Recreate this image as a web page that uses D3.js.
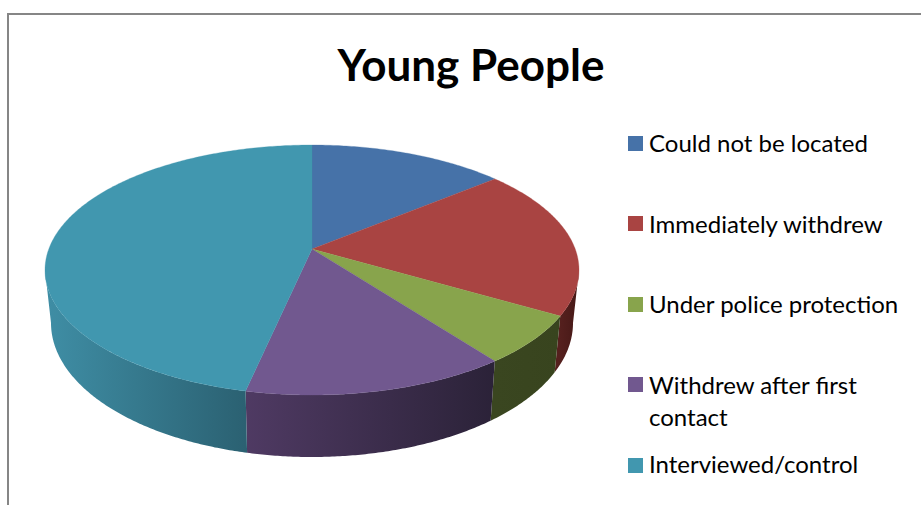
<!DOCTYPE html>
<html><head><meta charset="utf-8">
<script src="https://cdn.jsdelivr.net/npm/d3@7"></script>
<style>html,body{margin:0;padding:0;background:#fff}svg{display:block}text{font-family:Lato,"Open Sans",sans-serif;fill:#000}</style>
</head><body><div id="c"></div>
<script>
const categories=["Could not be located","Immediately withdrew","Under police protection","Withdrew after first contact","Interviewed/control"];
const values=[12,19,7,16,46];
const topColors=["#4672A8","#A94442","#88A44C","#71588F","#4197AF"];
const wallLight=["#2f4d72","#55201e","#3a4620","#4f3a63","#3f8ea5"];
const wallDark=["#2f4d72","#451816","#38441e","#2b2238","#2b6172"];
const legendLines=[["Could not be located"],["Immediately withdrew"],["Under police protection"],["Withdrew after first","contact"],["Interviewed/control"]];
const W=921,H=505;
const svg=d3.select("#c").append("svg").attr("width",W).attr("height",H);
const defs=svg.append("defs");
svg.append("path").attr("d",`M8,${H}V14H${W}`).attr("fill","none").attr("stroke","#868686").attr("stroke-width",2);
svg.append("text").attr("x",471).attr("y",81).attr("text-anchor","middle").attr("font-size",44).attr("font-weight",700).text("Young People");

const apex=[312,249];
const tx=d3.scaleLinear([-1,1],[45,579]),ty=d3.scaleLinear([-1,1],[145,395]);
const bx=d3.scaleLinear([-1,1],[51,573]),by=d3.scaleLinear([-1,1],[189,457]);
const topPt=a=>[tx(Math.sin(a)),ty(-Math.cos(a))];
const botPt=a=>[bx(Math.sin(a)),by(-Math.cos(a))];
const samples=(a0,a1)=>{const n=Math.max(2,Math.ceil((a1-a0)/0.01));return d3.range(n+1).map(i=>a0+(a1-a0)*i/n);};
const line=d3.line();
const arcs=d3.pie().sort(null).value(d=>d)(values);

// walls (front half only)
const lo=Math.PI/2,hi=Math.PI*1.5;
arcs.forEach((d,i)=>{
  const a0=Math.max(d.startAngle,lo),a1=Math.min(d.endAngle,hi);
  if(a1<=a0)return;
  const s=samples(a0,a1);
  const xs=s.map(a=>topPt(a)[0]);
  const id="w"+i;
  const g=defs.append("linearGradient").attr("id",id).attr("gradientUnits","userSpaceOnUse")
    .attr("x1",d3.min(xs)).attr("x2",d3.max(xs)).attr("y1",0).attr("y2",0);
  const leftIsLight=true;
  g.append("stop").attr("offset",0).attr("stop-color",wallLight[i]);
  g.append("stop").attr("offset",1).attr("stop-color",wallDark[i]);
  svg.append("path").attr("d",line(s.map(topPt).concat(s.slice().reverse().map(botPt)))+"Z").attr("fill",`url(#${id})`);
});
// top face
arcs.forEach((d,i)=>{
  const s=samples(d.startAngle,d.endAngle);
  svg.append("path").attr("d",line([apex].concat(s.map(topPt)))+"Z").attr("fill",topColors[i]).attr("stroke",topColors[i]).attr("stroke-width",0.3);
});
// legend
const swatchY=[136,216,297,377,458];
const baseY=[152,233,313,394,473];
categories.forEach((c,i)=>{
  svg.append("rect").attr("x",628).attr("y",swatchY[i]).attr("width",15).attr("height",15).attr("fill",topColors[i]);
  legendLines[i].forEach((t,j)=>svg.append("text").attr("x",649).attr("y",baseY[i]+j*32).attr("font-size",24).text(t));
});
</script></body></html>
